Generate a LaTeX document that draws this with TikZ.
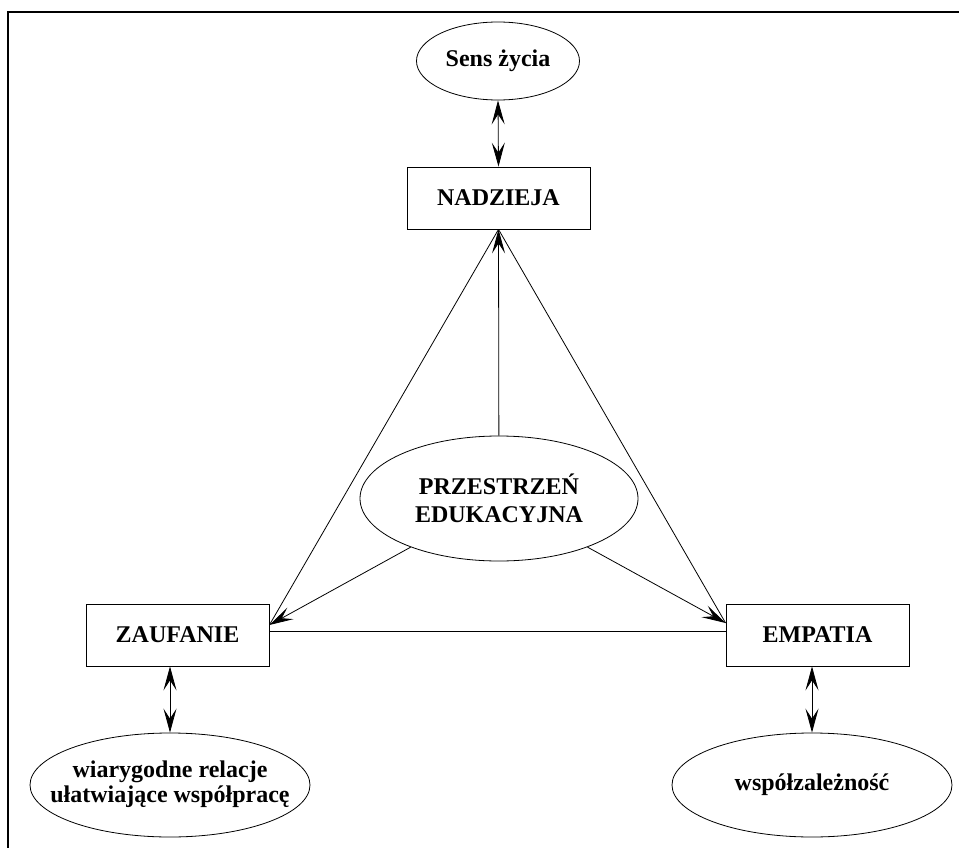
\documentclass[tikz,border=0pt]{standalone}
\usepackage{fontspec}
\setmainfont{Liberation Serif}
\usetikzlibrary{arrows.meta,shapes.geometric}
\begin{document}
\begin{tikzpicture}[x=1pt,y=-1pt,
  every node/.style={font=\bfseries\fontsize{24}{25}\selectfont, inner sep=0pt, align=center},
  boxnode/.style={draw, line width=0.8pt, rectangle, minimum width=183pt, minimum height=62pt},
  ellnode/.style={draw, line width=0.8pt, ellipse},
  conn/.style={line width=0.8pt},
  arr/.style={-{Stealth[length=24pt,width=13pt,inset=10pt]}},
  dbl/.style={{Stealth[length=24pt,width=13pt,inset=10pt]}-{Stealth[length=24pt,width=13pt,inset=10pt]}}]
\useasboundingbox (0,0) rectangle (959,848);
\clip (0,0) rectangle (959,848);
\draw[line width=2pt] (8,870) -- (8,12) -- (980,12);

\node[ellnode, minimum width=163pt, minimum height=78pt] (sens) at (498,61) {Sens życia};
\node[boxnode] (nad) at (498.5,198) {NADZIEJA};
\node[ellnode, minimum width=278pt, minimum height=125pt] (prz) at (499,498.5) {PRZESTRZEŃ\\[3pt]EDUKACYJNA};
\node[boxnode] (zauf) at (177.5,635) {ZAUFANIE};
\node[boxnode] (emp) at (817.5,635) {EMPATIA};
\node[ellnode, minimum width=280pt, minimum height=104pt] (wiar) at (170,785) {};
\node (wiartext) at (170,784) {wiarygodne relacje\\ułatwiające współpracę};
\node[ellnode, minimum width=280pt, minimum height=104pt] (wsp) at (812,785) {współzależność};

\coordinate (zt) at ([yshift=10pt]zauf.east);
\coordinate (et) at ([yshift=12pt]emp.west);

\draw[conn, dbl] (sens.south) -- (nad.north);
\draw[conn, arr] (prz) -- (nad.south);
\draw[conn] (nad.south) -- (zt);
\draw[conn] (nad.south) -- (et);
\draw[conn, arr] (prz) -- (zt);
\draw[conn, arr] (prz) -- (et);
\draw[conn] ([yshift=4pt]zauf.east) -- ([yshift=4pt]emp.west);
\draw[conn, dbl] ([xshift=-7.5pt]zauf.south) -- (wiar.north);
\draw[conn, dbl] ([xshift=-5.5pt]emp.south) -- (wsp.north);
\end{tikzpicture}
\end{document}
